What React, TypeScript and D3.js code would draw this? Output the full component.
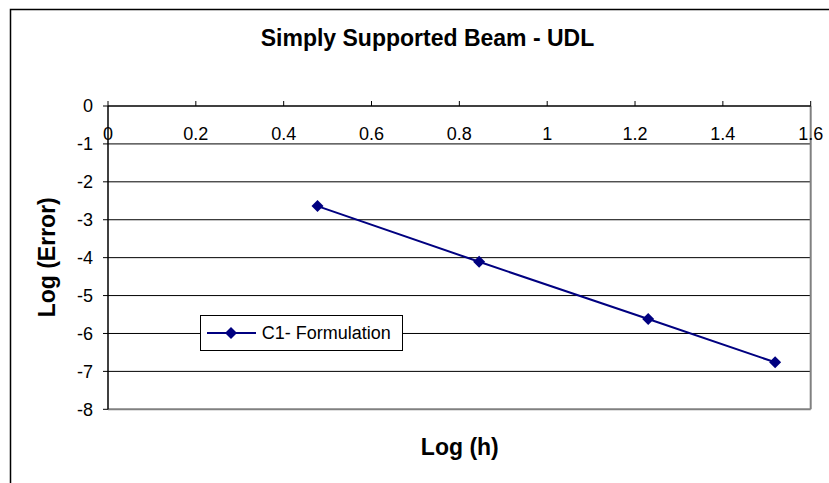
import React from 'react';
import * as d3 from 'd3';

const logH = [0.477, 0.845, 1.23, 1.519];
const logErr = [-2.64, -4.11, -5.62, -6.76];
const xTicks = [0, 0.2, 0.4, 0.6, 0.8, 1, 1.2, 1.4, 1.6];
const yTicks = [0, -1, -2, -3, -4, -5, -6, -7, -8];
const seriesName = 'C1- Formulation';
const chartTitle = 'Simply Supported Beam - UDL';

const W = 829;
const H = 483;
const font = '"Liberation Sans", Arial, sans-serif';
const navy = '#000080';

const diamond = (cx, cy, r) => `M${cx},${cy - r}L${cx + r},${cy}L${cx},${cy + r}L${cx - r},${cy}Z`;

export default function App() {
  const x = d3.scaleLinear().domain([0, 1.6]).range([108, 810.7]);
  const y = d3.scaleLinear().domain([0, -8]).range([106, 409.3]);
  const line = d3.line().x((d) => x(d[0])).y((d) => y(d[1]));
  const pts = logH.map((v, i) => [v, logErr[i]]);

  return (
    <svg width={W} height={H} style={{ position: 'absolute', left: 0, top: 0, background: '#fff' }}>
      <rect x={10.5} y={9.5} width={840} height={500} fill="#fff" stroke="#000" strokeWidth={1.5} />
      <text x={427.5} y={46} textAnchor="middle" fontFamily={font} fontWeight="bold" fontSize={23}>{chartTitle}</text>

      {/* gridlines */}
      {yTicks.filter((t) => t !== 0 && t !== -8).map((t) => (
        <line key={t} x1={x(0)} x2={x(1.6)} y1={y(t)} y2={y(t)} stroke="#000" strokeWidth={1} />
      ))}
      {/* plot border right + bottom */}
      <line x1={x(1.6)} x2={x(1.6)} y1={y(0)} y2={y(-8)} stroke="#808080" strokeWidth={2} />
      <line x1={x(0)} x2={x(1.6)} y1={y(-8)} y2={y(-8)} stroke="#808080" strokeWidth={2} />

      {/* y axis */}
      <line x1={x(0)} x2={x(0)} y1={y(0)} y2={y(-8)} stroke="#000" strokeWidth={1.5} />
      {yTicks.map((t) => (
        <g key={t}>
          <line x1={x(0) - 5} x2={x(0)} y1={y(t)} y2={y(t)} stroke="#000" />
          <text x={93} y={y(t)} dy="0.36em" textAnchor="end" fontFamily={font} fontSize={18}>{t}</text>
        </g>
      ))}

      {/* x axis at top */}
      <line x1={x(0)} x2={x(1.6)} y1={y(0)} y2={y(0)} stroke="#000" strokeWidth={1.5} />
      {xTicks.map((t) => (
        <g key={t}>
          <line x1={x(t)} x2={x(t)} y1={y(0) - 5} y2={y(0)} stroke="#000" />
          <text x={x(t)} y={140} textAnchor="middle" fontFamily={font} fontSize={18}>{t}</text>
        </g>
      ))}

      {/* series */}
      <path d={line(pts)} fill="none" stroke={navy} strokeWidth={2} />
      {pts.map((p, i) => (
        <path key={i} d={diamond(x(p[0]), y(p[1]), 6)} fill={navy} />
      ))}

      {/* legend */}
      <rect x={200.5} y={315.5} width={202} height={35} fill="#fff" stroke="#000" strokeWidth={1} />
      <line x1={207} x2={256} y1={333} y2={333} stroke={navy} strokeWidth={2} />
      <path d={diamond(231, 333, 6)} fill={navy} />
      <text x={261.7} y={333} dy="0.36em" fontFamily={font} fontSize={18}>{seriesName}</text>

      {/* axis titles */}
      <text x={459.8} y={455} textAnchor="middle" fontFamily={font} fontWeight="bold" fontSize={23}>Log (h)</text>
      <text transform={`translate(55,257.3) rotate(-90)`} textAnchor="middle" fontFamily={font} fontWeight="bold" fontSize={23}>Log (Error)</text>
    </svg>
  );
}
